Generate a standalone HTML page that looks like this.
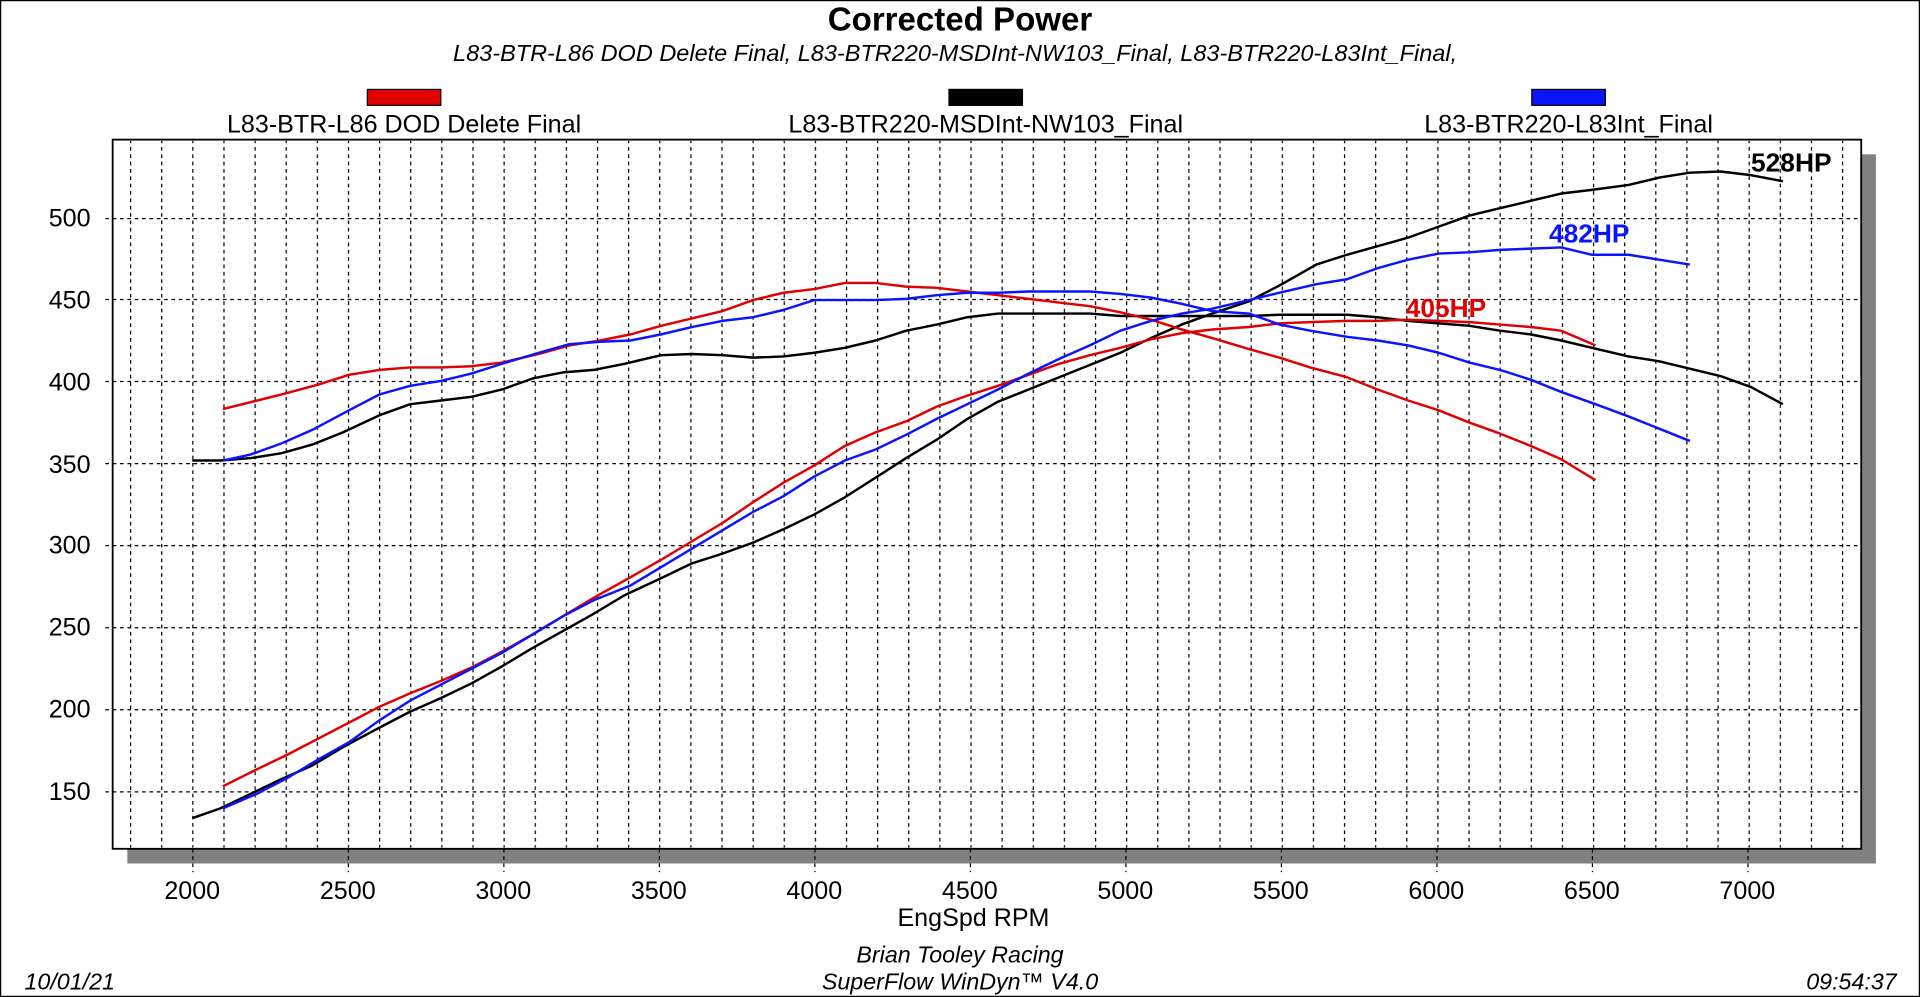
<!DOCTYPE html>
<html><head><meta charset="utf-8"><style>
html,body{margin:0;padding:0;background:#fff;}
svg{display:block;}
text{font-family:"Liberation Sans",Arial,sans-serif;}
</style></head><body>
<svg width="1920" height="997" viewBox="0 0 1568 814" preserveAspectRatio="none" xmlns="http://www.w3.org/2000/svg">
<defs>
<pattern id="vg" patternUnits="userSpaceOnUse" x="157" y="0" width="25.42" height="814">
<line x1="0.5" y1="0" x2="0.5" y2="814" stroke="#000" stroke-width="1" stroke-dasharray="3,3"/>
</pattern>
<pattern id="mt" patternUnits="userSpaceOnUse" x="0" y="178" width="20" height="13.37">
<line x1="92" y1="0.5" x2="98" y2="0.5" stroke="#000" stroke-width="1" stroke-dasharray="2,2"/>
</pattern>
</defs>
<rect x="0.5" y="0.5" width="1567" height="813" fill="#fff" stroke="#000" stroke-width="1"/>
<text x="784" y="25" font-size="27" font-weight="bold" text-anchor="middle">Corrected Power</text>
<text x="780" y="50" font-size="19" font-style="italic" text-anchor="middle" textLength="820" lengthAdjust="spacingAndGlyphs">L83-BTR-L86 DOD Delete Final, L83-BTR220-MSDInt-NW103_Final, L83-BTR220-L83Int_Final,</text>
<rect x="300" y="73" width="60" height="13" fill="#e00000" stroke="#000"/>
<rect x="775" y="73" width="60" height="13" fill="#000" stroke="#000"/>
<rect x="1251" y="73" width="60" height="13" fill="#0a14ff" stroke="#000"/>
<text x="330" y="108" font-size="20.5" text-anchor="middle">L83-BTR-L86 DOD Delete Final</text>
<text x="805" y="108" font-size="20.5" text-anchor="middle">L83-BTR220-MSDInt-NW103_Final</text>
<text x="1281" y="108" font-size="20.5" text-anchor="middle">L83-BTR220-L83Int_Final</text>
<rect x="104" y="126" width="1428" height="579" fill="#808080"/>
<rect x="92" y="114" width="1428" height="579" fill="#fff"/>
<rect x="93" y="115" width="1426" height="577" fill="url(#vg)"/>
<rect x="92" y="120" width="10" height="570" fill="url(#mt)"/>
<g stroke="#000" stroke-width="1" stroke-dasharray="3,3">
<line x1="86" y1="646.5" x2="1520" y2="646.5"/>
<line x1="86" y1="579.5" x2="1520" y2="579.5"/>
<line x1="86" y1="512.5" x2="1520" y2="512.5"/>
<line x1="86" y1="445.5" x2="1520" y2="445.5"/>
<line x1="86" y1="378.5" x2="1520" y2="378.5"/>
<line x1="86" y1="311.5" x2="1520" y2="311.5"/>
<line x1="86" y1="244.5" x2="1520" y2="244.5"/>
<line x1="86" y1="178.5" x2="1520" y2="178.5"/>
<line x1="157.5" y1="693" x2="157.5" y2="712"/>
<line x1="284.5" y1="693" x2="284.5" y2="712"/>
<line x1="411.5" y1="693" x2="411.5" y2="712"/>
<line x1="538.5" y1="693" x2="538.5" y2="712"/>
<line x1="665.5" y1="693" x2="665.5" y2="712"/>
<line x1="792.5" y1="693" x2="792.5" y2="712"/>
<line x1="919.5" y1="693" x2="919.5" y2="712"/>
<line x1="1046.5" y1="693" x2="1046.5" y2="712"/>
<line x1="1173.5" y1="693" x2="1173.5" y2="712"/>
<line x1="1300.5" y1="693" x2="1300.5" y2="712"/>
<line x1="1427.5" y1="693" x2="1427.5" y2="712"/>
</g>
<rect x="92" y="114" width="1428" height="579" fill="none" stroke="#000" stroke-width="1.5"/>
<g font-size="20.5" text-anchor="end">
<text x="74" y="653">150</text><text x="74" y="586">200</text><text x="74" y="519">250</text>
<text x="74" y="452">300</text><text x="74" y="386">350</text><text x="74" y="319">400</text>
<text x="74" y="252">450</text><text x="74" y="185">500</text>
</g>
<g font-size="20.5" text-anchor="middle">
<text x="157" y="734">2000</text><text x="284" y="734">2500</text><text x="411" y="734">3000</text>
<text x="538" y="734">3500</text><text x="665" y="734">4000</text><text x="792" y="734">4500</text>
<text x="919" y="734">5000</text><text x="1046" y="734">5500</text><text x="1173" y="734">6000</text>
<text x="1300" y="734">6500</text><text x="1427" y="734">7000</text>
<text x="795" y="756">EngSpd RPM</text>
</g>
<g font-size="19" font-style="italic">
<text x="784" y="786" text-anchor="middle">Brian Tooley Racing</text>
<text x="784" y="808" text-anchor="middle">SuperFlow WinDyn™ V4.0</text>
<text x="20" y="808">10/01/21</text>
<text x="1549" y="808" text-anchor="end">09:54:37</text>
</g>
<g fill="none" stroke-width="2" stroke-linejoin="round">
<polyline stroke="#000" points="157,376 180,376 205,374 230,370 255,363 280,353 310,339 335,330 360,327 385,324 410,318 435,309 460,304 485,302 510,297 540,290 565,289 590,290 615,292 640,291 665,288 690,284 715,278 740,270 765,265 790,259 815,256 840,256 865,256 890,256 915,258 940,258 965,258 990,258 1020,258 1045,257 1070,257 1100,257 1125,259 1150,262 1175,264 1200,266 1225,270 1250,273 1275,278 1300,284 1330,291 1355,295 1380,301 1405,307 1430,316 1456,330"/>
<polyline stroke="#000" points="157,668 180,660 205,648 230,636 255,625 280,610 310,594 335,581 360,570 385,558 410,544 435,529 460,515 485,501 510,486 540,472 565,460 590,452 615,443 640,432 665,420 690,406 715,390 740,374 765,359 790,342 815,328 840,318 865,308 890,298 915,288 940,276 965,265 990,256 1020,246 1045,233 1075,216 1100,208 1125,201 1150,194 1175,185 1200,176 1225,170 1250,164 1275,158 1300,155 1330,151 1355,145 1380,141 1405,140 1430,143 1456,148"/>
<polyline stroke="#e00000" points="182,334 230,322 260,314 285,306 310,302 335,300 360,300 385,299 410,296 440,289 465,282 490,278 515,273 540,266 565,260 590,254 615,245 640,239 665,236 690,231 715,231 740,234 765,235 790,238 815,241 840,244 865,247 890,250 915,255 940,261 965,269 990,276 1020,285 1045,292 1070,300 1100,308 1125,318 1150,327 1175,335 1200,345 1225,354 1250,364 1275,375 1303,392"/>
<polyline stroke="#e00000" points="182,642 210,628 235,616 260,603 285,590 310,577 335,566 360,556 385,545 410,532 435,518 460,503 485,488 510,474 540,457 565,442 590,427 615,410 640,394 665,380 690,364 715,353 740,344 765,332 790,323 815,315 840,306 865,297 890,290 915,284 940,277 965,272 990,269 1020,267 1045,264 1070,263 1100,262 1125,262 1150,261 1175,262 1200,263 1225,265 1250,267 1275,270 1303,282"/>
<polyline stroke="#0a14ff" points="182,376 205,371 230,362 255,351 285,335 310,322 335,315 360,311 385,305 410,297 440,288 465,281 490,279 515,278 540,273 565,267 590,262 615,259 640,253 665,245 690,245 715,245 740,244 765,241 790,239 815,239 840,238 865,238 890,238 915,240 940,243 965,248 990,254 1020,256 1045,265 1070,270 1100,275 1125,278 1150,282 1175,288 1200,296 1225,302 1250,310 1275,320 1303,330 1330,340 1355,350 1380,360"/>
<polyline stroke="#0a14ff" points="182,660 210,648 235,635 260,620 285,606 310,588 335,572 360,559 385,546 410,533 435,518 460,503 485,490 515,478 540,463 565,448 590,433 615,418 640,405 665,389 690,376 715,367 740,355 765,342 790,330 815,318 840,305 865,293 890,282 915,270 940,262 965,256 990,252 1020,245 1045,239 1075,232 1100,228 1125,219 1150,212 1175,207 1200,206 1225,204 1250,203 1275,202 1300,208 1330,208 1355,212 1380,216"/>
</g>
<g font-size="21.5" font-weight="bold">
<text x="1430" y="140" fill="#000">528HP</text>
<text x="1265" y="198" fill="#0a14ff">482HP</text>
<text x="1148" y="259" fill="#e00000">405HP</text>
</g>
</svg>
</body></html>
